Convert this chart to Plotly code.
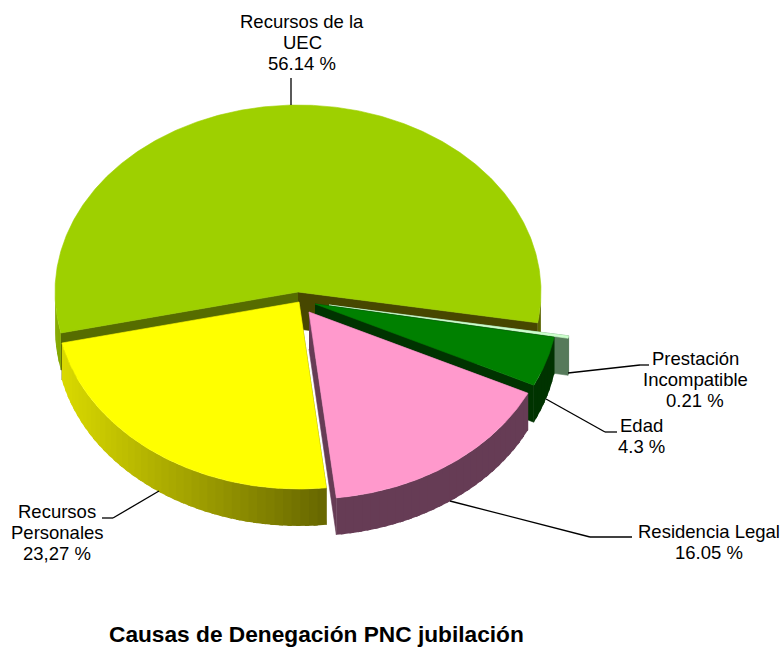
import numpy as np
import plotly.graph_objects as go

# ---- data (order: clockwise, starting at Prestación)
categories = ["Prestación Incompatible", "Edad", "Residencia Legal",
              "Recursos Personales", "Recursos de la UEC"]
values = [0.21, 4.3, 16.05, 23.27, 56.14]
label_lines = [["Prestación", "Incompatible", "0.21 %"], ["Edad", "4.3 %"],
               ["Residencia Legal", "16.05 %"], ["Recursos", "Personales", "23,27 %"],
               ["Recursos de la", "UEC", "56.14 %"]]
chart_title = "Causas de Denegación PNC jubilación"

# ---- geometry / styles of the exploded, tilted pie
START_ANGLE = 99.5
RX, RY, DEPTH = 243, 187, 37
slice_centers = [(329, 305), (315, 304), (309, 312), (299, 302), (298, 292)]
top_colors = ["#ccffcc", "#008000", "#ff99cc", "#ffff00", "#9ed000"]
outer_colors = [("#567a5a", "#567a5a"), ("#003300", "#003300"), ("#663c55", "#663c55"),
                ("#666600", "#dcdc00"), ("#5a6400", "#86aa00")]
cut_start_colors = ["#567a5a", "#003300", "#663c55", "#666600", "#566c00"]
cut_end_colors = ["#567a5a", "#003300", "#663c55", "#666600", "#474700"]
draw_order = [4, 0, 1, 2, 3]
label_pos = [(695, 379.5), (641, 435.5), (709, 541.5), (57, 532), (302, 42.5)]
LINE_STEP = 21
leaders = [[(568, 373), (640, 365), (649, 365)],
           [(546, 399), (605, 432), (617, 432)],
           [(450, 501), (590, 537), (632, 537)],
           [(159, 491), (113, 518), (102, 518)],
           [(291, 105), (291, 78)]]

total = sum(values)
fig = go.Figure()


def point(c, deg):
    a = np.radians(deg)
    return c[0] + RX * np.sin(a), c[1] - RY * np.cos(a)


def poly(xs, ys, color, width=0.6):
    fig.add_trace(go.Scatter(x=list(xs), y=list(ys), mode="lines", fill="toself",
                             fillcolor=color, line=dict(color=color, width=width),
                             hoverinfo="skip", showlegend=False))


def mix(c1, c2, t):
    a = [int(c1[i:i + 2], 16) for i in (1, 3, 5)]
    b = [int(c2[i:i + 2], 16) for i in (1, 3, 5)]
    return "rgb(%d,%d,%d)" % tuple(round(p + (q - p) * t) for p, q in zip(a, b))


# angular extent of each slice, from the values
spans = []
angle = START_ANGLE
for v in values:
    spans.append((angle, angle + v / total * 360))
    angle += v / total * 360
sin_right = np.sin(np.radians(spans[3][0]))  # rim shading runs from here to the far left


def outer_wall(c, a0, a1, colors):
    # the outer rim faces the viewer between 90 and 270 degrees (mod 360)
    for shift in (0, 360):
        lo, hi = max(a0, 90 + shift), min(a1, 270 + shift)
        if hi <= lo:
            continue
        n = max(2, int((hi - lo) / 2))
        edges = np.linspace(lo, hi, n + 1)
        for e0, e1 in zip(edges[:-1], edges[1:]):
            arc = np.linspace(e0, min(e1 + 1.0, hi), 6)
            xs, ys = point(c, arc)
            mid = np.sin(np.radians((e0 + e1) / 2))
            t = np.clip((sin_right - mid) / (sin_right + 1), 0, 1)
            poly(np.r_[xs, xs[::-1]], np.r_[ys, ys[::-1] + DEPTH],
                 mix(colors[0], colors[1], t), width=0)


for i in draw_order:
    a0, a1 = spans[i]
    c = slice_centers[i]
    for a, col in ((a0, cut_start_colors[i]), (a1, cut_end_colors[i])):
        ex, ey = point(c, a)
        poly([c[0], ex, ex, c[0]], [c[1], ey, ey + DEPTH, c[1] + DEPTH], col)
    outer_wall(c, a0, a1, outer_colors[i])
    arc = np.linspace(a0, a1, max(3, int((a1 - a0) * 2)))
    xs, ys = point(c, arc)
    poly(np.r_[c[0], xs, c[0]], np.r_[c[1], ys, c[1]], top_colors[i])

shapes = []
for path in leaders:
    for (x0, y0), (x1, y1) in zip(path[:-1], path[1:]):
        shapes.append(dict(type="line", x0=x0, y0=y0, x1=x1, y1=y1, xref="x", yref="y",
                           line=dict(color="#000000", width=1.3), layer="above"))

annotations = []
for p, lines in zip(label_pos, label_lines):
    for k, line in enumerate(lines):
        annotations.append(dict(x=p[0], y=p[1] + (k - (len(lines) - 1) / 2) * LINE_STEP,
                                xref="x", yref="y", text=line, showarrow=False,
                                xanchor="center", yanchor="middle",
                                font=dict(family="Liberation Sans", size=18.5, color="#000000")))
annotations.append(dict(x=316, y=634, xref="x", yref="y", text="<b>%s</b>" % chart_title,
                        showarrow=False, xanchor="center", yanchor="middle",
                        font=dict(family="Liberation Sans", size=22.7, color="#000000")))

fig.update_layout(width=783, height=650, margin=dict(l=0, r=0, t=0, b=0),
                  paper_bgcolor="#ffffff", plot_bgcolor="#ffffff", showlegend=False,
                  xaxis=dict(range=[0, 783], visible=False, fixedrange=True),
                  yaxis=dict(range=[650, 0], visible=False, fixedrange=True),
                  shapes=shapes, annotations=annotations)
fig.write_html("out.html", config={"displayModeBar": False},
               post_script="document.body.style.margin='0';document.body.style.overflow='hidden';")
